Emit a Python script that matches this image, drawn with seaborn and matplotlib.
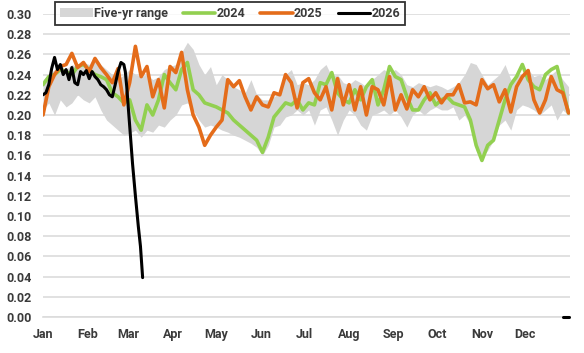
import numpy as np
import pandas as pd
import matplotlib
matplotlib.use("Agg")
import matplotlib.pyplot as plt
from matplotlib.patches import Patch
from matplotlib.lines import Line2D
import seaborn as sns

# ---------------- data ----------------
days = list(range(0, 365, 4))  # day of year

range_low = [0.205, 0.212, 0.200, 0.215, 0.208, 0.212, 0.220, 0.215, 0.212, 0.218,
             0.205, 0.195, 0.190, 0.185, 0.180, 0.182, 0.185, 0.178, 0.185, 0.183,
             0.190, 0.188, 0.195, 0.200, 0.210, 0.212, 0.205, 0.195, 0.188, 0.190,
             0.188, 0.185, 0.183, 0.180, 0.178, 0.175, 0.172, 0.168, 0.160, 0.170,
             0.188, 0.190, 0.198, 0.200, 0.205, 0.200, 0.205, 0.190, 0.205, 0.208,
             0.195, 0.180, 0.195, 0.205, 0.200, 0.190, 0.185, 0.200, 0.202, 0.205,
             0.200, 0.205, 0.198, 0.188, 0.200, 0.205, 0.200, 0.205, 0.208, 0.205,
             0.205, 0.208, 0.195, 0.200, 0.190, 0.165, 0.158, 0.165, 0.175, 0.190,
             0.195, 0.185, 0.205, 0.210, 0.208, 0.205, 0.200, 0.205, 0.210, 0.195,
             0.205, 0.200]
range_high = [0.235, 0.240, 0.245, 0.248, 0.245, 0.250, 0.248, 0.252, 0.250, 0.258,
              0.250, 0.245, 0.240, 0.235, 0.240, 0.245, 0.240, 0.238, 0.240, 0.235,
              0.238, 0.245, 0.248, 0.250, 0.262, 0.272, 0.265, 0.250, 0.240, 0.248,
              0.230, 0.240, 0.235, 0.228, 0.225, 0.222, 0.235, 0.220, 0.215, 0.215,
              0.218, 0.222, 0.240, 0.245, 0.230, 0.232, 0.230, 0.235, 0.245, 0.250,
              0.238, 0.240, 0.232, 0.230, 0.235, 0.232, 0.228, 0.235, 0.240, 0.245,
              0.242, 0.245, 0.240, 0.230, 0.228, 0.232, 0.230, 0.228, 0.230, 0.228,
              0.225, 0.228, 0.232, 0.240, 0.252, 0.250, 0.240, 0.230, 0.235, 0.240,
              0.250, 0.235, 0.240, 0.240, 0.245, 0.238, 0.240, 0.235, 0.240, 0.245,
              0.235, 0.228]
y2024 = [0.230, 0.238, 0.240, 0.245, 0.243, 0.240, 0.248, 0.250, 0.245, 0.240,
         0.238, 0.235, 0.222, 0.218, 0.212, 0.215, 0.195, 0.185, 0.210, 0.200,
         0.215, 0.240, 0.232, 0.225, 0.245, 0.252, 0.225, 0.220, 0.212, 0.210,
         0.208, 0.205, 0.202, 0.195, 0.190, 0.185, 0.180, 0.175, 0.163, 0.178,
         0.198, 0.205, 0.212, 0.210, 0.215, 0.205, 0.212, 0.210, 0.232, 0.230,
         0.242, 0.222, 0.215, 0.212, 0.225, 0.215, 0.228, 0.235, 0.210, 0.225,
         0.248, 0.238, 0.235, 0.218, 0.205, 0.205, 0.215, 0.222, 0.210, 0.215,
         0.218, 0.212, 0.210, 0.208, 0.195, 0.170, 0.155, 0.170, 0.175, 0.195,
         0.215, 0.230, 0.238, 0.250, 0.235, 0.228, 0.225, 0.240, 0.245, 0.248,
         0.225, 0.202]
y2025 = [0.200, 0.228, 0.240, 0.248, 0.250, 0.261, 0.247, 0.252, 0.243, 0.256,
         0.247, 0.240, 0.232, 0.246, 0.210, 0.232, 0.268, 0.238, 0.248, 0.218,
         0.235, 0.207, 0.248, 0.242, 0.262, 0.225, 0.200, 0.188, 0.170, 0.180,
         0.188, 0.195, 0.235, 0.228, 0.234, 0.218, 0.205, 0.218, 0.210, 0.208,
         0.222, 0.220, 0.240, 0.232, 0.207, 0.232, 0.236, 0.222, 0.215, 0.228,
         0.205, 0.236, 0.210, 0.230, 0.205, 0.228, 0.200, 0.228, 0.225, 0.210,
         0.238, 0.205, 0.220, 0.206, 0.225, 0.218, 0.228, 0.215, 0.222, 0.212,
         0.220, 0.220, 0.230, 0.212, 0.213, 0.210, 0.235, 0.226, 0.230, 0.213,
         0.225, 0.203, 0.228, 0.238, 0.244, 0.215, 0.202, 0.215, 0.238, 0.225,
         0.222, 0.202]

days2026 = [0, 2, 4, 6, 8, 10, 12, 14, 16, 18, 20, 22, 24, 26, 28, 30, 32, 34, 36,
            38, 40, 42, 44, 46, 48, 50, 52, 54, 56, 57, 58, 60, 62, 64, 66, 67.5, 69]
y2026 = [0.220, 0.222, 0.230, 0.246, 0.257, 0.245, 0.250, 0.240, 0.245, 0.235,
         0.247, 0.232, 0.230, 0.243, 0.240, 0.244, 0.236, 0.243, 0.238, 0.235,
         0.230, 0.228, 0.225, 0.220, 0.218, 0.230, 0.243, 0.252, 0.250, 0.243,
         0.228, 0.190, 0.152, 0.120, 0.090, 0.070, 0.039]
days2026_tail = [360, 364]
y2026_tail = [0.0, 0.0]

month_starts = [0, 31, 59, 90, 120, 151, 181, 212, 243, 273, 304, 334]
month_labels = ["Jan", "Feb", "Mar", "Apr", "May", "Jun", "Jul", "Aug", "Sep",
                "Oct", "Nov", "Dec"]
yticks = [0.00, 0.02, 0.04, 0.06, 0.08, 0.10, 0.12, 0.14, 0.16, 0.18, 0.20,
          0.22, 0.24, 0.26, 0.28, 0.30]

# ---------------- style ----------------
sns.set_theme(style="white")
plt.rcParams["font.family"] = ["Roboto", "DejaVu Sans"]

C_RANGE = "#d6d6d6"
C_2024 = "#92d050"
C_2025 = "#e46c1a"
C_2026 = "#000000"
TXT = "#3a3a3a"

fig = plt.figure(figsize=(5.84, 3.53), dpi=100)
ax = fig.add_axes([43 / 584, 1 - 317 / 353, (570 - 43) / 584, (317 - 14) / 353])

df = pd.DataFrame({"day": days, "low": range_low, "high": range_high,
                   "y2024": y2024, "y2025": y2025})

ax.fill_between(df["day"], df["low"], df["high"], color=C_RANGE, lw=0, zorder=1)
sns.lineplot(data=df, x="day", y="y2024", ax=ax, color=C_2024, lw=2.6, zorder=2)
sns.lineplot(data=df, x="day", y="y2025", ax=ax, color=C_2025, lw=2.6, zorder=3)
d26 = pd.DataFrame({"day": days2026, "v": y2026})
sns.lineplot(data=d26, x="day", y="v", ax=ax, color=C_2026, lw=2.2, zorder=4)
d26t = pd.DataFrame({"day": days2026_tail, "v": y2026_tail})
sns.lineplot(data=d26t, x="day", y="v", ax=ax, color=C_2026, lw=2.2, zorder=4,
             clip_on=False)

ax.set_xlim(0, 365)
ax.set_ylim(0, 0.30)
ax.set_xticks(month_starts)
ax.set_xticklabels(month_labels)
ax.set_yticks(yticks)
ax.set_yticklabels([f"{t:.2f}" for t in yticks])
ax.set_xlabel("")
ax.set_ylabel("")

ax.grid(axis="y", color="#dcdcdc", lw=1.2)
ax.grid(axis="x", visible=False)
ax.set_axisbelow(True)
for s in ["left", "top", "right"]:
    ax.spines[s].set_visible(False)
ax.spines["bottom"].set_color("#dcdcdc")
ax.spines["bottom"].set_linewidth(1.2)

ax.tick_params(axis="x", length=4, width=1, color="#cccccc", pad=4,
               labelsize=9, labelcolor=TXT)
ax.tick_params(axis="y", length=0, pad=8, labelsize=9, labelcolor=TXT)
for lab in ax.get_xticklabels() + ax.get_yticklabels():
    lab.set_fontweight("bold")

handles = [Patch(facecolor=C_RANGE, edgecolor="none"),
           Line2D([], [], color=C_2024, lw=2.6),
           Line2D([], [], color=C_2025, lw=2.6),
           Line2D([], [], color=C_2026, lw=2.2)]
leg = ax.legend(handles, ["Five-yr range", "2024", "2025", "2026"],
                loc="upper left", bbox_to_anchor=(0.023, 1.04), ncol=4,
                frameon=True, fancybox=False, borderaxespad=0,
                prop={"weight": "bold", "size": 9}, handlelength=2.6,
                handletextpad=0.1, columnspacing=1.2, borderpad=0.4)
leg.get_frame().set_edgecolor("black")
leg.get_frame().set_linewidth(1.3)
for t in leg.get_texts():
    t.set_color(TXT)

fig.savefig("out.png", dpi=100)
